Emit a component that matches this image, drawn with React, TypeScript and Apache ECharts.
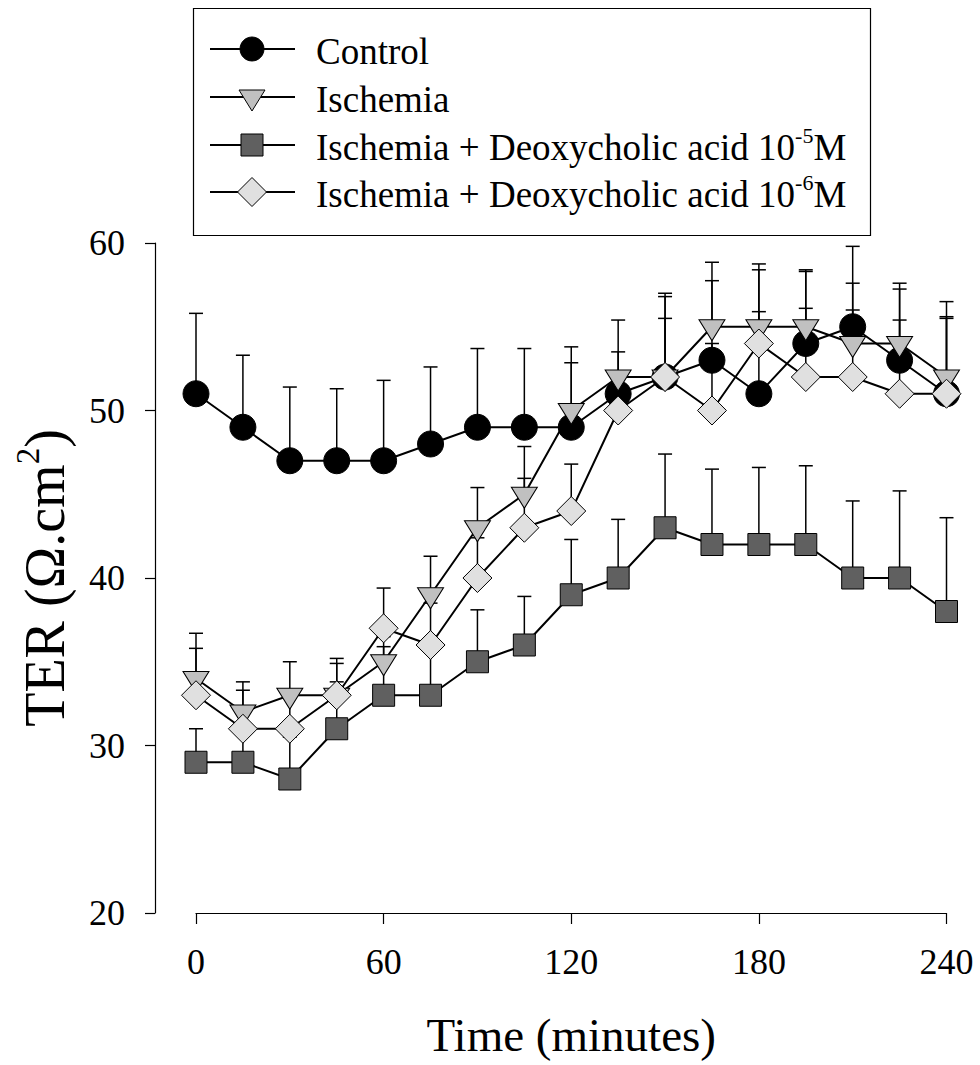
import React, { useEffect, useRef } from "react";
import * as echarts from "echarts";

const times = [0, 15, 30, 45, 60, 75, 90, 105, 120, 135, 150, 165, 180, 195, 210, 225, 240];
const xTicks = [0, 60, 120, 180, 240];
const yTicks = [20, 30, 40, 50, 60];

const controlMean = [51, 49, 47, 47, 47, 48, 49, 49, 49, 51, 52, 53, 51, 54, 55, 53, 51];
const controlErr = [4.8, 4.3, 4.4, 4.3, 4.8, 4.6, 4.7, 4.7, 4.8, 4.4, 4.8, 4.75, 4.9, 4.3, 4.8, 4.25, 4.6];

const ischemiaMean = [34, 32, 33, 33, 35, 39, 43, 45, 50, 52, 52, 55, 55, 55, 54, 54, 52];
const ischemiaErr = [2.7, 1.8, 2.0, 2.2, 1.5, 2.3, 2.4, 2.85, 2.85, 1.5, 5.0, 3.85, 3.75, 3.4, 3.6, 3.6, 4.5];

const dca5Mean = [29, 29, 28, 31, 33, 33, 35, 36, 39, 40, 43, 42, 42, 42, 40, 40, 38];
const dca5Err = [2.0, 1.8, 2.5, 2.8, 2.9, 2.8, 3.1, 2.9, 3.3, 3.5, 4.4, 4.5, 4.6, 4.7, 4.6, 5.2, 5.6];

const dca6Mean = [33, 31, 31, 33, 37, 36, 40, 43, 44, 50, 52, 50, 54, 52, 52, 51, 51];
const dca6Err = [2.8, 2.3, 2.15, 1.9, 2.4, 2.5, 2.4, 2.95, 2.8, 2.0, 3.5, 4.0, 4.4, 4.1, 4.0, 4.4, 4.5];

const FONT = "Liberation Serif";
const TRI_DOWN = "path://M0,0 L26,0 L13,21 Z";

const legendLabels = [
  "{n|Control}",
  "{n|Ischemia}",
  "{n|Ischemia + Deoxycholic acid 10}{s|-5}{n|M}",
  "{n|Ischemia + Deoxycholic acid 10}{s|-6}{n|M}",
];

const seriesDefs = [
  { name: "Control", mean: controlMean, err: controlErr, symbol: "circle", size: 26, fill: "#000000", offset: [0, 0] },
  { name: "Ischemia", mean: ischemiaMean, err: ischemiaErr, symbol: TRI_DOWN, size: [26, 21], fill: "#c0c0c0", offset: [0, 3.5] },
  { name: "DCA5", mean: dca5Mean, err: dca5Err, symbol: "rect", size: 22, fill: "#606060", offset: [0, 0] },
  { name: "DCA6", mean: dca6Mean, err: dca6Err, symbol: "diamond", size: 29, fill: "#e0e0e0", offset: [0, 0] },
];

function errorSeries(mean: number[], err: number[]) {
  return {
    type: "custom",
    silent: true,
    data: times.map((t, i) => [t, mean[i], mean[i] + err[i]]),
    encode: { x: 0, y: [1, 2] },
    renderItem: (_params: any, api: any) => {
      const x = api.value(0);
      const p0 = api.coord([x, api.value(1)]);
      const p1 = api.coord([x, api.value(2)]);
      const st = { stroke: "#000", lineWidth: 1.5 };
      return {
        type: "group",
        children: [
          { type: "line", shape: { x1: p0[0], y1: p0[1], x2: p1[0], y2: p1[1] }, style: st },
          { type: "line", shape: { x1: p1[0] - 7, y1: p1[1], x2: p1[0] + 7, y2: p1[1] }, style: st },
        ],
      };
    },
  };
}

function legendGraphic() {
  const rowsY = [49, 97, 145, 192];
  const els: any[] = [
    {
      type: "rect",
      shape: { x: 193.5, y: 8.5, width: 677, height: 227 },
      style: { fill: "#fff", stroke: "#000", lineWidth: 1.2 },
      z: 100,
    },
  ];
  const mx = 252;
  rowsY.forEach((cy, i) => {
    els.push({
      type: "line",
      shape: { x1: 210, y1: cy, x2: 295, y2: cy },
      style: { stroke: "#000", lineWidth: 2 },
      z: 101,
    });
    const ms = { stroke: "#000", lineWidth: 1 } as any;
    if (i === 0) {
      els.push({ type: "circle", shape: { cx: mx, cy, r: 12 }, style: { ...ms, fill: "#000" }, z: 102 });
    } else if (i === 1) {
      els.push({
        type: "polygon",
        shape: { points: [[mx - 13, cy - 7], [mx + 13, cy - 7], [mx, cy + 14]] },
        style: { ...ms, fill: "#c0c0c0" },
        z: 102,
      });
    } else if (i === 2) {
      els.push({ type: "rect", shape: { x: mx - 11, y: cy - 11, width: 22, height: 22 }, style: { ...ms, fill: "#606060" }, z: 102 });
    } else {
      els.push({
        type: "polygon",
        shape: { points: [[mx, cy - 14.5], [mx + 14.5, cy], [mx, cy + 14.5], [mx - 14.5, cy]] },
        style: { ...ms, fill: "#e0e0e0" },
        z: 102,
      });
    }
    els.push({
      type: "text",
      x: 316,
      y: cy,
      z: 102,
      style: {
        text: legendLabels[i],
        verticalAlign: "middle",
        align: "left",
        fill: "#000",
        rich: {
          n: { fontSize: 37, fontFamily: FONT, lineHeight: 42, fill: "#000", verticalAlign: "bottom" },
          s: { fontSize: 22, fontFamily: FONT, lineHeight: 42, fill: "#000", verticalAlign: "top" },
        },
      },
    });
  });
  return els;
}

export default function App() {
  const ref = useRef<HTMLDivElement>(null);
  useEffect(() => {
    if (!ref.current) return;
    const chart = echarts.init(ref.current, undefined, { renderer: "svg" });
    const series: any[] = [];
    seriesDefs.forEach((d) => {
      series.push(errorSeries(d.mean, d.err));
      series.push({
        type: "line",
        name: d.name,
        data: times.map((t, i) => [t, d.mean[i]]),
        symbol: d.symbol,
        symbolSize: d.size,
        symbolOffset: d.offset,
        showAllSymbol: true,
        lineStyle: { color: "#000", width: 2 },
        itemStyle: { color: d.fill, borderColor: "#000", borderWidth: 1 },
        silent: true,
      });
    });
    chart.setOption({
      animation: false,
      backgroundColor: "#fff",
      textStyle: { fontFamily: FONT },
      grid: { left: 196, right: 33.5, top: 243, bottom: 152, containLabel: false },
      xAxis: {
        type: "value",
        min: xTicks[0],
        max: xTicks[xTicks.length - 1],
        interval: 60,
        name: "Time (minutes)",
        nameLocation: "middle",
        nameGap: 98,
        nameTextStyle: { fontSize: 47, fontFamily: FONT, color: "#000" },
        axisLine: { onZero: false, lineStyle: { color: "#000", width: 1.2 } },
        axisTick: { inside: false, length: 11, lineStyle: { color: "#000", width: 1.2 } },
        axisLabel: { fontSize: 36, fontFamily: FONT, color: "#000", margin: 31 },
        splitLine: { show: false },
      },
      yAxis: {
        type: "value",
        min: yTicks[0],
        max: yTicks[yTicks.length - 1],
        interval: 10,
        offset: 41,
        name: "{n|TER (Ω.cm}{s|2}{n|)}",
        nameLocation: "middle",
        nameGap: 82,
        nameRotate: 90,
        nameTextStyle: {
          color: "#000",
          rich: {
            n: { fontSize: 56, fontFamily: FONT, lineHeight: 62, color: "#000", verticalAlign: "bottom" },
            s: { fontSize: 33, fontFamily: FONT, lineHeight: 62, color: "#000", verticalAlign: "top" },
          },
        },
        axisLine: { show: true, onZero: false, lineStyle: { color: "#000", width: 1.2 } },
        axisTick: { show: true, inside: false, length: 10, lineStyle: { color: "#000", width: 1.2 } },
        axisLabel: { fontSize: 36, fontFamily: FONT, color: "#000", margin: 30 },
        splitLine: { show: false },
      },
      graphic: legendGraphic(),
      series,
    });
    return () => chart.dispose();
  }, []);
  return <div ref={ref} style={{ position: "fixed", left: 0, top: 0, width: 980, height: 1065 }} />;
}
